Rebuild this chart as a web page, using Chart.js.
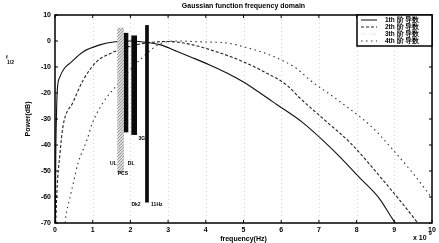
<!DOCTYPE html>
<html>
<head>
<meta charset="utf-8">
<script src="https://cdn.jsdelivr.net/npm/chart.js@4"></script>
<style>
  body { margin: 0; background: #fff; }
  #wrap { width: 439px; height: 243px; position: relative; }
</style>
</head>
<body>
<div id="wrap"><canvas id="chart"></canvas></div>
<script>
const chartTitle = "Gaussian function frequency domain"
const seriesLabels = ["1th 阶 导数", "2th 阶 导数", "3th 阶 导数", "4th 阶 导数"]
const xTicks = [0, 1, 2, 3, 4, 5, 6, 7, 8, 9, 10]
const yTicks = [-70, -60, -50, -40, -30, -20, -10, 0, 10]

// 1th order
const freq1 = [0.01, 0.02, 0.04, 0.06, 0.13, 0.25, 0.4, 0.74, 1.19, 1.6, 2.0, 2.4, 2.8, 3.2, 3.66, 4.1, 4.56, 5.0, 5.44, 5.88, 6.58, 7.37, 8.09, 8.6, 8.97, 9.03]
const power1 = [-70, -45, -28, -19, -13.8, -10.5, -8.5, -4.2, -1.5, -0.3, 0, -0.5, -1.5, -3.8, -6.5, -9.2, -12.3, -15.8, -20, -24.4, -31.5, -41.9, -52.7, -60.5, -68.8, -70]
// 2th order
const freq2 = [0.02, 0.05, 0.13, 0.21, 0.48, 0.75, 1.1, 1.5, 2.0, 2.5, 3.0, 3.5, 4.3, 5.0, 5.5, 6.15, 6.5, 7.2, 7.82, 8.7, 9.6, 9.62]
const power2 = [-70, -58, -43.6, -33, -23.5, -15, -8, -4.6, -2, -0.6, -0.2, -1, -4.2, -8, -11.5, -17, -22, -31, -39, -53.5, -69.6, -70]
// 3th order (not visible)
const freq3 = []
const power3 = []
// 4th order
const freq4 = [0.27, 0.29, 0.35, 0.4, 0.48, 0.61, 0.74, 0.85, 0.98, 1.27, 1.6, 2.25, 2.8, 3.3, 3.8, 4.56, 5.2, 5.8, 6.4, 6.76, 7.5, 8.4, 8.9, 9.5, 10]
const power4 = [-70, -67, -63, -60, -55, -47, -42, -38, -32, -23.8, -17.7, -7.3, -1, 0, -0.3, -0.8, -3, -6, -10.5, -15, -22.7, -33, -40.8, -51, -60.4]

// frequency bands (GHz centre, dB bottom, dB top)
const bandGray = [{ x: 1.74, y: [-50.8, 5] }]
const bandBlack = [{ x: 1.87, y: [-35, 3] }, { x: 2.1, y: [-36, 2] }]
const bandIsm = [{ x: 2.44, y: [-62, 6] }]
const bandTexts = ["UL", "DL", "PCS", "3G", "Dk2", "11Hz"]
const bandTextX = [1.55, 2.02, 1.8, 2.3, 2.15, 2.7]
const bandTextY = [-47, -47, -51, -37.5, -63, -63]

function pts(xs, ys) {
  return xs.map((x, i) => ({ x: x, y: ys[i] }))
}

function stipple() {
  const c = document.createElement("canvas")
  c.width = 3
  c.height = 3
  const g = c.getContext("2d")
  g.fillStyle = "#dcdcdc"
  g.fillRect(0, 0, 3, 3)
  g.fillStyle = "#999"
  g.fillRect(0, 0, 1, 1)
  g.fillRect(2, 1, 1, 1)
  g.fillRect(1, 2, 1, 1)
  return c.getContext("2d").createPattern(c, "repeat")
}

const FONT = "'Liberation Sans', Arial, sans-serif"

const decorPlugin = {
  id: "decor",
  beforeDatasetsDraw(chart) {
    const { ctx, chartArea: a, scales } = chart
    ctx.save()
    ctx.strokeStyle = "#d4d4d4"
    ctx.lineWidth = 1
    ctx.setLineDash([1, 3])
    for (const v of xTicks.slice(1, -1)) {
      const px = Math.round(scales.x.getPixelForValue(v)) + 0.5
      ctx.beginPath()
      ctx.moveTo(px, a.top)
      ctx.lineTo(px, a.bottom)
      ctx.stroke()
    }
    ctx.restore()
  },
  afterDraw(chart) {
    const { ctx, chartArea: a, scales } = chart
    ctx.save()
    // box and inward ticks
    ctx.strokeStyle = "#000"
    ctx.lineWidth = 1.5
    ctx.strokeRect(a.left, a.top, a.right - a.left, a.bottom - a.top)
    ctx.lineWidth = 1
    for (const v of xTicks) {
      const px = scales.x.getPixelForValue(v)
      ctx.beginPath()
      ctx.moveTo(px, a.bottom); ctx.lineTo(px, a.bottom - 3)
      ctx.moveTo(px, a.top); ctx.lineTo(px, a.top + 3)
      ctx.stroke()
    }
    for (const v of yTicks) {
      const py = scales.y.getPixelForValue(v)
      ctx.beginPath()
      ctx.moveTo(a.left, py); ctx.lineTo(a.left + 3, py)
      ctx.moveTo(a.right, py); ctx.lineTo(a.right - 3, py)
      ctx.stroke()
    }
    // title
    ctx.fillStyle = "#000"
    ctx.font = "bold 7px " + FONT
    ctx.textAlign = "center"
    ctx.textBaseline = "middle"
    ctx.fillText(chartTitle, (a.left + a.right) / 2, 6)
    // exponent
    ctx.textAlign = "left"
    ctx.font = "bold 7px " + FONT
    ctx.fillText("x 10", a.right - 19, 238)
    ctx.font = "bold 5px " + FONT
    ctx.fillText("9", a.right - 3, 234)
    // small label left
    ctx.font = "bold 5px " + FONT
    ctx.fillText("f", 6, 58)
    ctx.fillText("1/2", 7, 63)
    // band texts
    ctx.font = "bold 5px " + FONT
    ctx.textAlign = "center"
    bandTexts.forEach((t, i) => {
      ctx.fillText(t, scales.x.getPixelForValue(bandTextX[i]), scales.y.getPixelForValue(bandTextY[i]))
    })
    // legend
    const lw = 75, lh = 31
    const lx = a.right - lw, ly = a.top
    ctx.fillStyle = "#fff"
    ctx.fillRect(lx, ly, lw, lh)
    ctx.strokeStyle = "#000"
    ctx.lineWidth = 1.5
    ctx.strokeRect(lx, ly, lw, lh)
    ctx.font = "bold 6.5px " + FONT
    ctx.textAlign = "left"
    chart.data.datasets.slice(0, 4).forEach((ds, i) => {
      const yy = ly + 5 + i * 7
      ctx.strokeStyle = ds.borderColor
      ctx.lineWidth = 1
      ctx.setLineDash(ds.borderDash || [])
      ctx.beginPath()
      ctx.moveTo(lx + 4, yy)
      ctx.lineTo(lx + 20, yy)
      ctx.stroke()
      ctx.setLineDash([])
      ctx.fillStyle = "#000"
      ctx.fillText(ds.label, lx + 28, yy)
    })
    ctx.restore()
  }
}

const lineBase = { type: "line", pointRadius: 0, borderWidth: 1.1, fill: false, cubicInterpolationMode: "monotone", order: 2 }
const noGrid = { display: false, drawTicks: false, tickLength: 0 }

new Chart("chart", {
  data: {
    datasets: [
      { ...lineBase, label: seriesLabels[0], data: pts(freq1, power1), borderColor: "#111" },
      { ...lineBase, label: seriesLabels[1], data: pts(freq2, power2), borderColor: "#222", borderDash: [3, 2] },
      { ...lineBase, label: seriesLabels[2], data: pts(freq3, power3), borderColor: "#e6e6e6", borderDash: [5, 2, 1, 2] },
      { ...lineBase, label: seriesLabels[3], data: pts(freq4, power4), borderColor: "#333", borderDash: [1.5, 3.5] },
      { type: "bar", label: "band1", data: bandGray, backgroundColor: stipple(), barThickness: 6, grouped: false, order: 0 },
      { type: "bar", label: "band2", data: bandBlack, backgroundColor: "#0a0a0a", barThickness: 5, grouped: false, order: 0 },
      { type: "bar", label: "band3", data: bandIsm, backgroundColor: "#0a0a0a", barThickness: 3, grouped: false, order: 0 }
    ]
  },
  options: {
    responsive: true,
    maintainAspectRatio: false,
    animation: false,
    layout: { padding: { top: 15, right: 7, left: 0, bottom: 0 } },
    plugins: {
      legend: { display: false },
      tooltip: { enabled: false },
      title: { display: false }
    },
    scales: {
      x: {
        type: "linear",
        offset: false,
        min: 0,
        max: 10,
        afterBuildTicks: s => { s.ticks = xTicks.map(v => ({ value: v })) },
        afterFit: s => { s.height = 20 },
        grid: noGrid,
        border: { display: false },
        ticks: { color: "#000", font: { size: 7, weight: "bold", family: FONT }, padding: 3, maxRotation: 0 },
        title: { display: true, text: "frequency(Hz)", color: "#000", font: { size: 7, weight: "bold", family: FONT }, padding: 0 }
      },
      y: {
        min: -70,
        max: 10,
        afterBuildTicks: s => { s.ticks = yTicks.map(v => ({ value: v })) },
        afterFit: s => { s.width = 55 },
        grid: noGrid,
        border: { display: false },
        ticks: { color: "#000", font: { size: 7, weight: "bold", family: FONT }, padding: 4 },
        title: { display: true, text: "Power(dB)", color: "#000", font: { size: 7, weight: "bold", family: FONT }, padding: { top: 24, bottom: 0 } }
      }
    }
  },
  plugins: [decorPlugin]
})
</script>
</body>
</html>
